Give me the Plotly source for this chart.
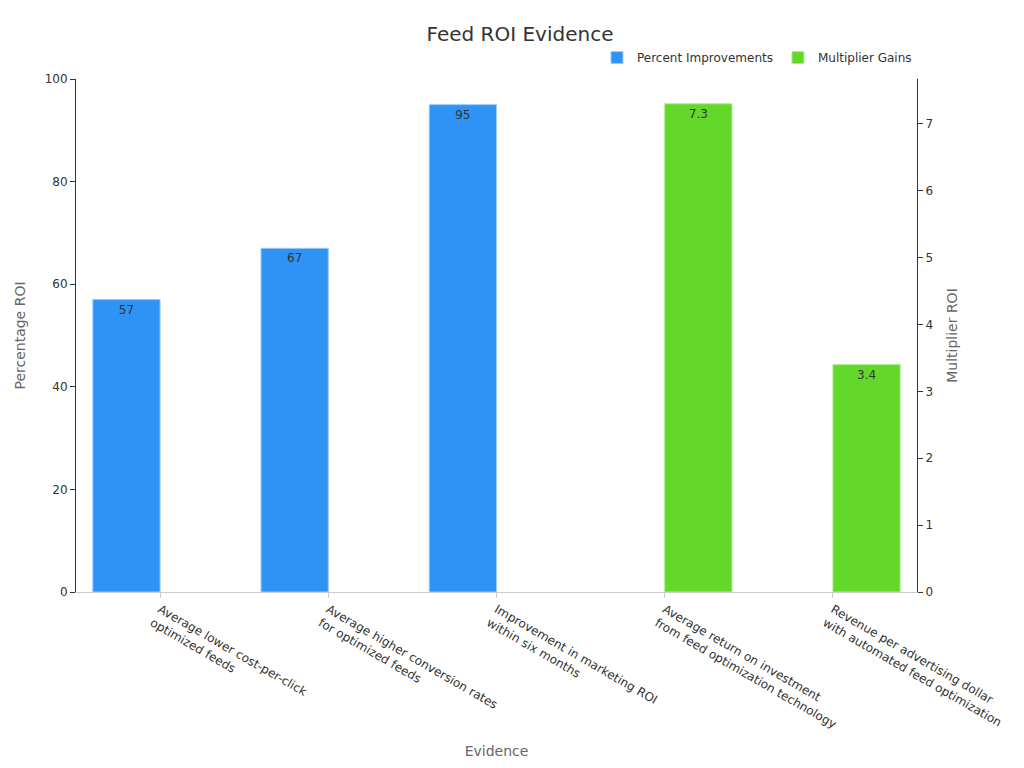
import plotly.graph_objects as go

categories = [
    "Average lower cost-per-click<br>optimized feeds",
    "Average higher conversion rates<br>for optimized feeds",
    "Improvement in marketing ROI<br>within six months",
    "Average return on investment<br>from feed optimization technology",
    "Revenue per advertising dollar<br>with automated feed optimization",
]
percent_values = [57, 67, 95, None, None]
multiplier_values = [None, None, None, 7.3, 3.4]

fig = go.Figure()
fig.add_trace(go.Bar(
    x=categories, y=percent_values, name="Percent Improvements",
    marker=dict(color="#2E93F5", line=dict(color="#9CCBF8", width=1)),
    text=[str(v) if v is not None else "" for v in percent_values],
    textposition="inside", insidetextanchor="end",
    textfont=dict(color="#333333", size=12), yaxis="y",
    offsetgroup="a", width=0.4, offset=-0.4,
))
fig.add_trace(go.Bar(
    x=categories, y=multiplier_values, name="Multiplier Gains",
    marker=dict(color="#63D82A", line=dict(color="#B0EC93", width=1)),
    text=[str(v) if v is not None else "" for v in multiplier_values],
    textposition="inside", insidetextanchor="end",
    textfont=dict(color="#333333", size=12), yaxis="y2",
    offsetgroup="b", width=0.4, offset=0,
))

fig.update_layout(
    width=1024, height=768,
    font=dict(family="DejaVu Sans", size=12, color="#333333"),
    title=dict(text="Feed ROI Evidence", x=0.5, y=0.975, font=dict(size=20)),
    barmode="group",
    plot_bgcolor="white", paper_bgcolor="white",
    margin=dict(l=59, r=115, t=71, b=184),
    legend=dict(orientation="h", x=1.0, xanchor="right", y=1.07, yanchor="top",
                font=dict(size=12)),
    xaxis=dict(title=dict(text="Evidence", font=dict(color="#666666", size=14)),
               tickangle=30, showline=True, linecolor="#cccccc", ticks="outside",
               tickcolor="#cccccc", tickfont=dict(size=12)),
    yaxis=dict(title=dict(text="Percentage ROI", font=dict(color="#666666", size=14)),
               range=[0, 100], dtick=20, showgrid=False, showline=True,
               linecolor="#333333", ticks="outside", tickcolor="#333333", zeroline=False),
    yaxis2=dict(title=dict(text="Multiplier ROI", font=dict(color="#666666", size=14)),
                overlaying="y", side="right", range=[0, 7.67], dtick=1,
                showgrid=False, showline=True, linecolor="#333333", ticks="outside",
                tickcolor="#333333", zeroline=False),
)

fig.write_html("out.html")
